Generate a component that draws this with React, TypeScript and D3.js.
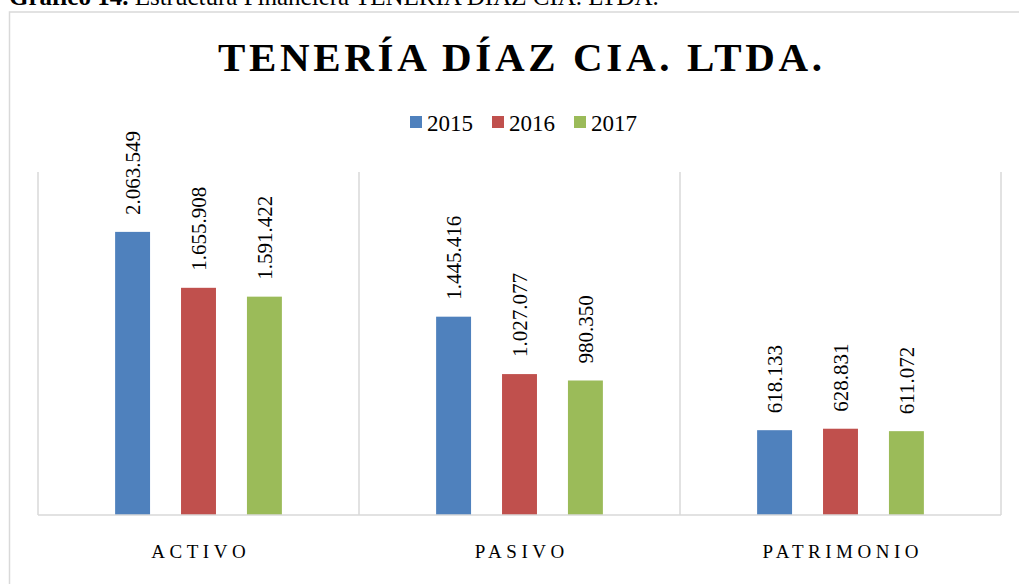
import * as d3 from "d3";

const categories = ["ACTIVO", "PASIVO", "PATRIMONIO"];
const years = ["2015", "2016", "2017"];
const values2015 = [2063549, 1445416, 618133];
const values2016 = [1655908, 1027077, 628831];
const values2017 = [1591422, 980350, 611072];
const yearColors = ["#4F81BD", "#C0504D", "#9BBB59"];

const series = [values2015, values2016, values2017];

const width = 1019;
const height = 584;
const plotLeft = 38;
const plotRight = 1001;
const plotTop = 172;
const plotBottom = 515;
const serif = "'Liberation Serif', 'Times New Roman', serif";
const grid = "#D9D9D9";

const esLocale = d3.formatLocale({
  decimal: ",",
  thousands: ".",
  grouping: [3],
  currency: ["", ""],
});
const fmt = esLocale.format(",d");

export default function App() {
  // outer band: one slot per category
  const x0 = d3.scaleBand().domain(categories).range([plotLeft, plotRight]).padding(0);
  // inner band: the three years inside a slot
  const x1 = d3
    .scaleBand()
    .domain(years)
    .range([0, x0.bandwidth()])
    .paddingInner(0.47)
    .paddingOuter(1.17);
  const y = d3.scaleLinear().domain([0, 2500000]).range([plotBottom, plotTop]);

  const bars = categories.flatMap((cat, ci) =>
    years.map((yr, yi) => ({ cat, yr, yi, value: series[yi][ci] }))
  );

  const boundaries = [...categories.map((c) => x0(c)!), plotRight];

  return (
    <svg
      width={width}
      height={height}
      viewBox={`0 0 ${width} ${height}`}
      style={{ position: "fixed", left: 0, top: 0, background: "#fff" }}
    >
      {/* caption above the chart, cut at the top of the picture */}
      <text x={9} y={5} fontFamily={serif} fontSize={25} fill="#000">
        <tspan fontWeight="bold">Gráfico 14.</tspan>
        <tspan> Estructura Financiera TENERÍA DÍAZ CIA. LTDA.</tspan>
      </text>

      {/* chart area border */}
      <rect x={9.5} y={12} width={1030} height={600} fill="#fff" stroke={grid} strokeWidth={1.5} />

      {/* title */}
      <text
        x={520}
        y={71}
        textAnchor="middle"
        fontFamily={serif}
        fontWeight="bold"
        fontSize={41}
        textLength={604}
        lengthAdjust="spacing"
      >
        TENERÍA DÍAZ CIA. LTDA.
      </text>

      {/* legend */}
      {years.map((yr, i) => (
        <g key={yr} transform={`translate(${410 + i * 82},0)`}>
          <rect x={0} y={116} width={12} height={12} fill={yearColors[i]} />
          <text x={17} y={131} fontFamily={serif} fontSize={23} fill="#000">
            {yr}
          </text>
        </g>
      ))}

      {/* vertical gridlines between categories */}
      {boundaries.map((bx, i) => (
        <line key={i} x1={bx} x2={bx} y1={plotTop} y2={plotBottom} stroke={grid} strokeWidth={1.5} />
      ))}

      {/* bars */}
      {bars.map((d) => (
        <rect
          key={d.cat + d.yr}
          x={x0(d.cat)! + x1(d.yr)!}
          y={y(d.value)}
          width={x1.bandwidth()}
          height={y(0) - y(d.value)}
          fill={yearColors[d.yi]}
        />
      ))}

      {/* baseline */}
      <line x1={plotLeft} x2={plotRight} y1={plotBottom} y2={plotBottom} stroke={grid} strokeWidth={1.5} />

      {/* data labels */}
      {bars.map((d) => {
        const cx = x0(d.cat)! + x1(d.yr)! + x1.bandwidth() / 2;
        const ty = y(d.value) - 17;
        return (
          <text
            key={"l" + d.cat + d.yr}
            transform={`translate(${cx},${ty}) rotate(-90)`}
            dy="0.35em"
            textAnchor="start"
            fontFamily={serif}
            fontSize={21}
            fill="#000"
          >
            {fmt(d.value)}
          </text>
        );
      })}

      {/* category labels */}
      {categories.map((c) => (
        <text
          key={c}
          x={x0(c)! + x0.bandwidth() / 2 + 2.25}
          y={558}
          textAnchor="middle"
          fontFamily={serif}
          fontSize={19}
          letterSpacing={4.5}
          fill="#000"
        >
          {c}
        </text>
      ))}
    </svg>
  );
}
